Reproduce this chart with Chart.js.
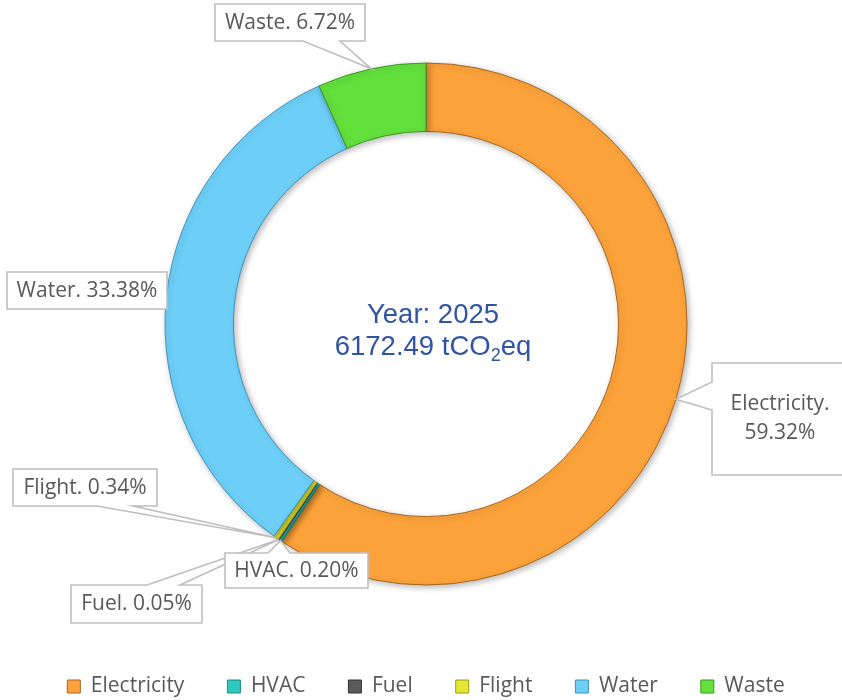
<!DOCTYPE html>
<html><head><meta charset="utf-8">
<script src="https://cdn.jsdelivr.net/npm/chart.js@4/dist/chart.umd.min.js"></script>
<style>html,body{margin:0;padding:0;background:#fff}#wrap{width:842px;height:700px;position:relative}</style>
</head><body><div id="wrap"><canvas id="c"></canvas></div>
<script>
const categories = ['Electricity', 'HVAC', 'Fuel', 'Flight', 'Water', 'Waste'];
const sharePercent = [59.32, 0.20, 0.05, 0.34, 33.38, 6.72];
const centerYearLabel = 'Year: 2025';
const centerTotal = '6172.49';
const centerUnit = ['tCO', '2', 'eq'];

const fillColors = ['#FCA23A', '#2EC8BE', '#5A5A5A', '#E6E633', '#6DCFF8', '#63E03C'];
const edgeColors = ['#A8651C', '#1C8C85', '#333333', '#9A9A1C', '#3F93BC', '#3A9A20'];

// callout box layout (label boxes only; anchors come from the arcs)
const calloutBoxes = [
  {x: 712, y: 363, w: 136, h: 112, split: true, wedge: {side: 'left', a: 382, b: 410}},
  {x: 225, y: 553, w: 143, h: 35, wedge: {side: 'top', a: 268, b: 290}},
  {x: 71, y: 585, w: 131, h: 38, wedge: {side: 'top', a: 147, b: 180}},
  {x: 13, y: 469, w: 144, h: 37, wedge: {side: 'bottom', a: 97, b: 133}},
  {x: 7, y: 272, w: 160, h: 37, wedge: null},
  {x: 215, y: 4, w: 150, h: 37, wedge: {side: 'bottom', a: 303, b: 340}}
];
const drawOrder = [0, 4, 5, 3, 2, 1];

function calloutPath(ctx, bx, tip) {
  const {x, y, w, h, wedge} = bx;
  const r = x + w, btm = y + h;
  ctx.beginPath();
  ctx.moveTo(x, y);
  if (wedge && wedge.side === 'top') { ctx.lineTo(wedge.a, y); ctx.lineTo(tip.x, tip.y); ctx.lineTo(wedge.b, y); }
  ctx.lineTo(r, y);
  ctx.lineTo(r, btm);
  if (wedge && wedge.side === 'bottom') { ctx.lineTo(wedge.b, btm); ctx.lineTo(tip.x, tip.y); ctx.lineTo(wedge.a, btm); }
  ctx.lineTo(x, btm);
  if (wedge && wedge.side === 'left') { ctx.lineTo(x, wedge.b); ctx.lineTo(tip.x, tip.y); ctx.lineTo(x, wedge.a); }
  ctx.closePath();
}

const calloutPlugin = {
  id: 'callouts',
  afterDatasetsDraw(chart) {
    const ctx = chart.ctx;
    const meta = chart.getDatasetMeta(0);
    ctx.save();
    drawOrder.forEach(i => {
      const arc = meta.data[i];
      const p = arc.getProps(['x', 'y', 'startAngle', 'endAngle', 'outerRadius'], true);
      const mid = (p.startAngle + p.endAngle) / 2;
      const tip = {x: p.x + Math.cos(mid) * p.outerRadius, y: p.y + Math.sin(mid) * p.outerRadius};
      const bx = calloutBoxes[i];
      calloutPath(ctx, bx, tip);
      ctx.fillStyle = '#FFFFFF';
      ctx.fill();
      ctx.lineWidth = 1.6;
      ctx.strokeStyle = '#BFBFBF';
      ctx.stroke();
      ctx.fillStyle = '#595959';
      ctx.font = '21px "Open Sans"';
      ctx.textAlign = 'center';
      ctx.textBaseline = 'middle';
      const val = sharePercent[i].toFixed(2) + '%';
      const cx = bx.x + bx.w / 2, cy = bx.y + bx.h / 2;
      if (bx.split) {
        ctx.fillText(categories[i] + '.', cx, cy - 14.5);
        ctx.fillText(val, cx, cy + 14.5);
      } else {
        ctx.fillText(categories[i] + '. ' + val, cx, cy + 0.5);
      }
    });
    // centre text
    const a0 = meta.data[0];
    const cxc = a0.x + 7, cyc = a0.y;
    ctx.fillStyle = '#2F54A3';
    ctx.textBaseline = 'alphabetic';
    ctx.textAlign = 'center';
    ctx.font = '27.5px "Liberation Sans", Arial, sans-serif';
    ctx.fillText(centerYearLabel, cxc, cyc - 1);
    const t1 = centerTotal + ' ' + centerUnit[0];
    ctx.font = '27.5px "Liberation Sans", Arial, sans-serif';
    const w1 = ctx.measureText(t1).width, w3 = ctx.measureText(centerUnit[2]).width;
    ctx.font = '18px "Liberation Sans", Arial, sans-serif';
    const w2 = ctx.measureText(centerUnit[1]).width;
    let sx = cxc - (w1 + w2 + w3) / 2;
    ctx.textAlign = 'left';
    ctx.font = '27.5px "Liberation Sans", Arial, sans-serif';
    ctx.fillText(t1, sx, cyc + 31);
    ctx.font = '18px "Liberation Sans", Arial, sans-serif';
    ctx.fillText(centerUnit[1], sx + w1, cyc + 37);
    ctx.font = '27.5px "Liberation Sans", Arial, sans-serif';
    ctx.fillText(centerUnit[2], sx + w1 + w2, cyc + 31);
    ctx.restore();
  }
};

const shadowPlugin = {
  id: 'ringShadow',
  beforeDatasetsDraw(chart) {
    const ctx = chart.ctx;
    ctx.save();
    ctx.shadowColor = 'rgba(0,0,0,0.28)';
    ctx.shadowBlur = 6;
    ctx.shadowOffsetX = 2;
    ctx.shadowOffsetY = 2;
  },
  afterDatasetsDraw(chart) {
    chart.ctx.restore();
  }
};

new Chart(document.getElementById('c'), {
  type: 'doughnut',
  data: {
    labels: categories,
    datasets: [{
      data: sharePercent,
      backgroundColor: fillColors,
      borderColor: edgeColors,
      borderWidth: 1,
      hoverOffset: 0
    }]
  },
  options: {
    responsive: true,
    maintainAspectRatio: false,
    animation: false,
    radius: 261,
    cutout: '73.8%',
    layout: {padding: {top: 15, left: 10, right: 0, bottom: -7}},
    plugins: {
      tooltip: {enabled: false},
      legend: {
        position: 'bottom',
        labels: {
          boxWidth: 13,
          boxHeight: 13,
          padding: 43,
          color: '#595959',
          font: {family: '"Open Sans"', size: 21}
        }
      }
    }
  },
  plugins: [shadowPlugin, calloutPlugin]
});
</script>
</body></html>
